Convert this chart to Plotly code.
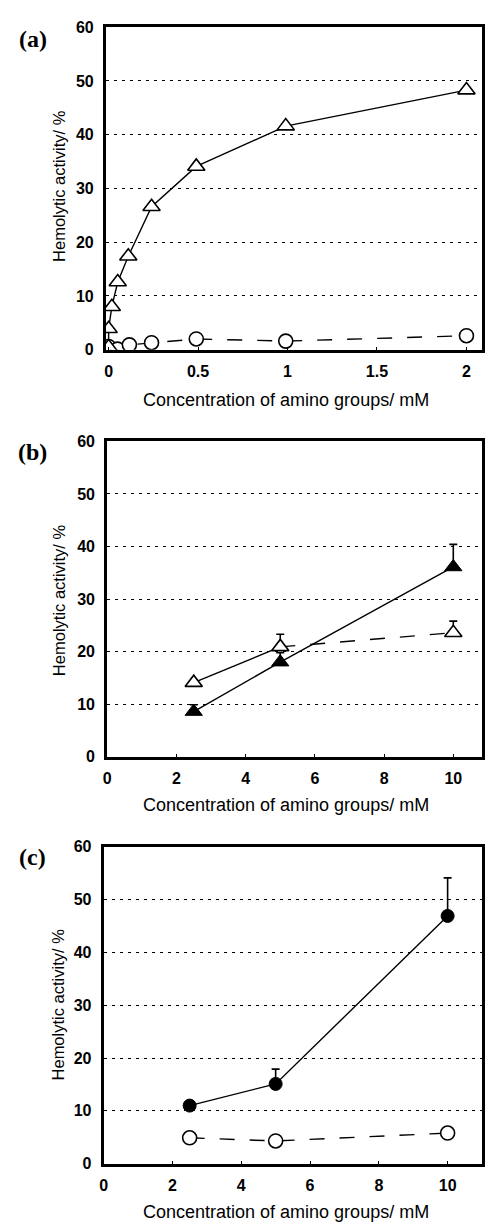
import plotly.graph_objects as go

# ---- Data ----
# Panel (a)
a_tri_x = [0.0, 0.0, 0.018, 0.051, 0.11, 0.24, 0.49, 0.99, 2.0]
a_tri_y = [0.5, 3.9, 8.0, 12.6, 17.4, 26.6, 34.1, 41.6, 48.3]
a_cir_x = [0.0, 0.05, 0.116, 0.24, 0.49, 0.99, 2.0]
a_cir_y = [0.6, 0.1, 0.9, 1.3, 2.0, 1.6, 2.6]

# Panel (b)
b_x = [2.5, 5, 10]
b_open_tri_y = [14.1, 20.9, 23.6]
b_open_tri_err = [0.0, 2.4, 2.2]
b_fill_tri_y = [8.6, 18.0, 36.1]
b_fill_tri_err = [1.3, 1.8, 4.3]

# Panel (c)
c_x = [2.5, 5, 10]
c_fill_cir_y = [11.0, 15.1, 46.9]
c_fill_cir_err = [0.0, 2.8, 7.2]
c_open_cir_y = [4.9, 4.3, 5.8]

y_ticks = [0, 10, 20, 30, 40, 50, 60]
a_x_ticks = [0, 0.5, 1, 1.5, 2]
a_x_ticklabels = ["0", "0.5", "1", "1.5", "2"]
bc_x_ticks = [0, 2, 4, 6, 8, 10]

x_title = "Concentration of amino groups/ mM"
y_title = "Hemolytic activity/ %"

W, H = 485, 1229
fig = go.Figure()

line_w = 1.4
TRI = 15
CIR = 14

def open_marker(symbol, size):
    return dict(symbol=symbol, size=size, color="white",
                line=dict(color="black", width=1.6))

def fill_marker(symbol, size):
    return dict(symbol=symbol, size=size, color="black",
                line=dict(color="black", width=1))

def errbar(arr):
    return dict(type="data", array=arr, arrayminus=[0] * len(arr),
                color="black", thickness=1.6, width=4)

# (a)
fig.add_trace(go.Scatter(x=a_cir_x, y=a_cir_y, mode="lines+markers",
                         line=dict(color="black", width=line_w, dash="longdash"),
                         marker=open_marker("circle", CIR),
                         xaxis="x", yaxis="y", showlegend=False))
fig.add_trace(go.Scatter(x=a_tri_x, y=a_tri_y, mode="lines+markers",
                         line=dict(color="black", width=line_w),
                         marker=open_marker("triangle-up", TRI),
                         xaxis="x", yaxis="y", showlegend=False))

# (b)
fig.add_trace(go.Scatter(x=b_x[:2], y=b_open_tri_y[:2], mode="lines",
                         line=dict(color="black", width=line_w),
                         xaxis="x2", yaxis="y2", showlegend=False))
fig.add_trace(go.Scatter(x=b_x[1:], y=b_open_tri_y[1:], mode="lines",
                         line=dict(color="black", width=line_w, dash="longdash"),
                         xaxis="x2", yaxis="y2", showlegend=False))
fig.add_trace(go.Scatter(x=b_x, y=b_fill_tri_y, mode="lines+markers",
                         line=dict(color="black", width=line_w),
                         marker=fill_marker("triangle-up", TRI),
                         error_y=errbar(b_fill_tri_err),
                         xaxis="x2", yaxis="y2", showlegend=False))
fig.add_trace(go.Scatter(x=b_x, y=b_open_tri_y, mode="markers",
                         marker=open_marker("triangle-up", TRI),
                         error_y=errbar(b_open_tri_err),
                         xaxis="x2", yaxis="y2", showlegend=False))

# (c)
fig.add_trace(go.Scatter(x=c_x, y=c_open_cir_y, mode="lines+markers",
                         line=dict(color="black", width=line_w, dash="longdash"),
                         marker=open_marker("circle", CIR),
                         xaxis="x3", yaxis="y3", showlegend=False))
fig.add_trace(go.Scatter(x=c_x, y=c_fill_cir_y, mode="lines+markers",
                         line=dict(color="black", width=line_w),
                         marker=fill_marker("circle", CIR - 1),
                         error_y=errbar(c_fill_cir_err),
                         xaxis="x3", yaxis="y3", showlegend=False))

tick_font = dict(family="Arial", size=16, color="black", weight="bold")

def xaxis(dom, rng, tickvals, ticktext=None, anchor="y"):
    d = dict(domain=dom, range=rng, tickvals=tickvals, showgrid=False,
             showline=True, mirror=True, linecolor="black", linewidth=3,
             ticks="inside", ticklen=3, tickcolor="black", zeroline=False,
             tickfont=tick_font, anchor=anchor, ticklabelstandoff=5)
    if ticktext:
        d["ticktext"] = ticktext
    return d

def yaxis(dom, anchor):
    return dict(domain=dom, range=[0, 60], tickvals=y_ticks, showgrid=True,
                gridcolor="black", griddash="3px,5px", gridwidth=1.4,
                showline=True, mirror=True, linecolor="black", linewidth=3,
                ticks="", zeroline=False, tickfont=tick_font, anchor=anchor,
                ticklabelstandoff=6)

def py(px):
    return 1 - px / H

fig.update_layout(
    width=W, height=H, margin=dict(l=0, r=0, t=0, b=0),
    paper_bgcolor="white", plot_bgcolor="white",
    xaxis=xaxis([103 / W, 483 / W], [-0.015, 2.087], a_x_ticks, a_x_ticklabels, "y"),
    yaxis=yaxis([py(346.5), py(19.5)], "x"),
    xaxis2=xaxis([104.3 / W, 483 / W], [0, 10.83], bc_x_ticks, None, "y2"),
    yaxis2=yaxis([py(759.3), py(439.4)], "x2"),
    xaxis3=xaxis([100.7 / W, 483 / W], [0, 11.0], bc_x_ticks, None, "y3"),
    yaxis3=yaxis([py(1171.9), py(850.5)], "x3"),
)

ann = []
xt_font = dict(family="Arial", size=18, color="black")
yt_font = dict(family="Arial", size=16.5, color="black")
label_font = dict(family="Liberation Serif", size=24, color="black")
for lab, ly, yc, xt_y, xc in [("(a)", 31, 180, 397, 285),
                              ("(b)", 450, 600, 808, 285),
                              ("(c)", 861, 1010, 1221, 285)]:
    ann.append(dict(text="<b>" + lab + "</b>", x=29 / W, y=py(ly), xref="paper", yref="paper",
                    showarrow=False, font=label_font, xanchor="center", yanchor="middle"))
    ann.append(dict(text=y_title, x=55 / W, y=py(yc), xref="paper", yref="paper",
                    showarrow=False, font=yt_font, textangle=-90,
                    xanchor="center", yanchor="middle"))
    ann.append(dict(text=x_title, x=xc / W, y=py(xt_y), xref="paper", yref="paper",
                    showarrow=False, font=xt_font, xanchor="center", yanchor="middle"))
fig.update_layout(annotations=ann)

fig.write_html("out.html")
